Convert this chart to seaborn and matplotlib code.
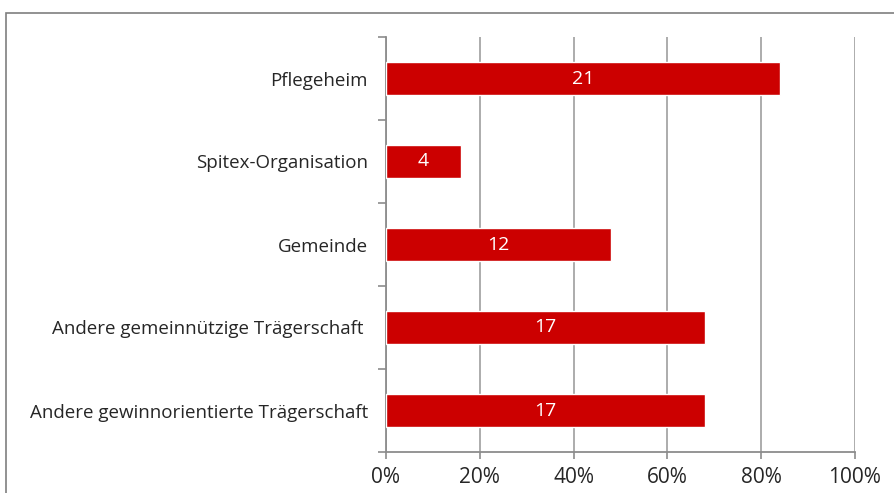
import matplotlib
matplotlib.use("Agg")
import matplotlib.pyplot as plt
import matplotlib.patches as mpatches
import seaborn as sns
import pandas as pd
from matplotlib.ticker import PercentFormatter

categories = ["Pflegeheim", "Spitex-Organisation", "Gemeinde",
              "Andere gemeinnützige Trägerschaft ", "Andere gewinnorientierte Trägerschaft"]
counts = [21, 4, 12, 17, 17]
total = 25
shares = [c / total * 100 for c in counts]

df = pd.DataFrame({"Kategorie": categories, "Anteil": shares, "Anzahl": counts})

sns.set_style("white")
plt.rcParams["font.family"] = ["Open Sans", "DejaVu Sans"]

fig = plt.figure(figsize=(8.94, 4.93), dpi=100)
ax = fig.add_axes([386 / 894, 1 - 452 / 493, (855 - 386) / 894, (452 - 37) / 493])

sns.barplot(data=df, x="Anteil", y="Kategorie", orient="h", color="#CC0000",
            saturation=1, width=0.4, ax=ax, zorder=3)

for i, (v, n) in enumerate(zip(shares, counts)):
    ax.text(v / 2, i, str(n), ha="center", va="center", color="white", fontsize=14, zorder=4)

ax.set_xlim(0, 100)
ax.set_ylim(4.5, -0.5)
ax.xaxis.set_major_formatter(PercentFormatter(decimals=0))
ax.set_xticks(range(0, 101, 20))
ax.set_xlabel("")
ax.set_ylabel("")
ax.grid(axis="x", color="#a6a6a6", linewidth=1.3, zorder=0)
ax.set_yticks([i - 0.5 for i in range(6)], minor=True)
ax.tick_params(axis="y", which="major", left=True, length=0, labelsize=13.5, pad=13, colors="#262626")
ax.tick_params(axis="y", which="minor", left=True, length=6, color="#8c8c8c", width=1.2)
ax.tick_params(axis="x", bottom=True, length=5, width=1.2, labelsize=15, pad=6, colors="#262626")
ax.tick_params(axis="x", color="#8c8c8c")
for side in ["top", "right"]:
    ax.spines[side].set_visible(False)
for side in ["left", "bottom"]:
    ax.spines[side].set_color("#8c8c8c")
    ax.spines[side].set_linewidth(1.3)

frame = mpatches.Rectangle((6 / 894, -0.1), 1.2, 1 - 13 / 493 + 0.1, transform=fig.transFigure,
                           fill=False, edgecolor="#7f7f7f", linewidth=1.2)
fig.patches.append(frame)

fig.savefig("out.png", dpi=100)
